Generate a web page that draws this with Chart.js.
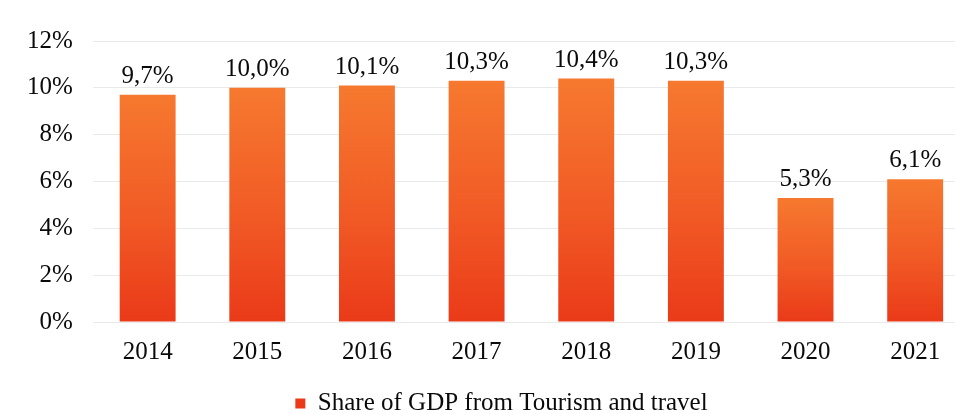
<!DOCTYPE html>
<html>
<head>
<meta charset="utf-8">
<script src="https://cdn.jsdelivr.net/npm/chart.js@4.4.0/dist/chart.umd.min.js"></script>
<style>
  html, body { margin: 0; padding: 0; background: #fff; overflow: hidden; }
  #wrap { position: absolute; left: 0; top: 0; width: 990px; height: 426px; }
</style>
</head>
<body>
<div id="wrap"><canvas id="gdp-chart"></canvas></div>
<script>
// Share of GDP from tourism and travel, per year
const years = ['2014', '2015', '2016', '2017', '2018', '2019', '2020', '2021'];
const shareValues = [9.7, 10.0, 10.1, 10.3, 10.4, 10.3, 5.3, 6.1];
const yTicks = [0, 2, 4, 6, 8, 10, 12];
const seriesName = 'Share of GDP from Tourism and travel';

const serif = '"Liberation Serif", "Times New Roman", serif';

// Format like 9,7%
function pct(v) {
    return v.toFixed(1).replace('.', ',') + '%';
}

// Orange to red gradient for each bar, from bar top down to zero
function barFill(context) {
    const chart = context.chart;
    if (!chart.chartArea || context.type !== 'data') return '#f1571f';
    const y = chart.scales.y;
    const top = y.getPixelForValue(context.raw);
    const bottom = y.getPixelForValue(0);
    const g = chart.ctx.createLinearGradient(0, top, 0, bottom);
    g.addColorStop(0, '#f6792f');
    g.addColorStop(0.55, '#f15a25');
    g.addColorStop(1, '#ea3a19');
    return g;
}

// Value text above each bar
const valueLabels = {
    id: 'valueLabels',
    afterDatasetsDraw(chart) {
        const ctx = chart.ctx;
        const meta = chart.getDatasetMeta(0);
        ctx.save();
        ctx.font = '25px ' + serif;
        ctx.fillStyle = '#0a0a0a';
        ctx.textAlign = 'center';
        ctx.textBaseline = 'bottom';
        meta.data.forEach((bar, i) => {
            ctx.fillText(pct(shareValues[i]), bar.x, bar.y - 6);
        });
        ctx.restore();
    }
};

// Nudge the legend a little to the right of centre
const legendShift = {
    id: 'legendShift',
    afterLayout(chart) {
        if (chart.legend) {
            chart.legend.left += 13;
            chart.legend.right += 13;
        }
    }
};

const ctx = document.getElementById('gdp-chart').getContext('2d');
const chart = new Chart(ctx, {
    type: 'bar',
    data: {
        labels: years,
        datasets: [{
            label: seriesName,
            data: shareValues,
            backgroundColor: barFill,
            borderWidth: 0,
            categoryPercentage: 1,
            barPercentage: 0.51
        }]
    },
    options: {
        responsive: true,
        maintainAspectRatio: false,
        animation: false,
        layout: { padding: { left: 7, right: 20, top: 41, bottom: 0 } },
        scales: {
            x: {
                grid: { display: false },
                border: { display: false },
                ticks: {
                    color: '#0a0a0a',
                    font: { family: serif, size: 25 },
                    padding: 7
                }
            },
            y: {
                min: 0,
                max: 12,
                afterBuildTicks(axis) {
                    axis.ticks = yTicks.map(v => ({ value: v }));
                },
                grid: { color: '#e9e9e9', lineWidth: 1, drawTicks: false },
                border: { display: false },
                ticks: {
                    color: '#0a0a0a',
                    font: { family: serif, size: 25 },
                    padding: 20,
                    callback: v => v + '%'
                }
            }
        },
        plugins: {
            tooltip: { enabled: false },
            legend: {
                position: 'bottom',
                labels: {
                    color: '#0a0a0a',
                    font: { family: serif, size: 25 },
                    boxWidth: 10,
                    boxHeight: 10,
                    padding: 17
                }
            }
        }
    },
    plugins: [valueLabels, legendShift]
});
</script>
</body>
</html>
